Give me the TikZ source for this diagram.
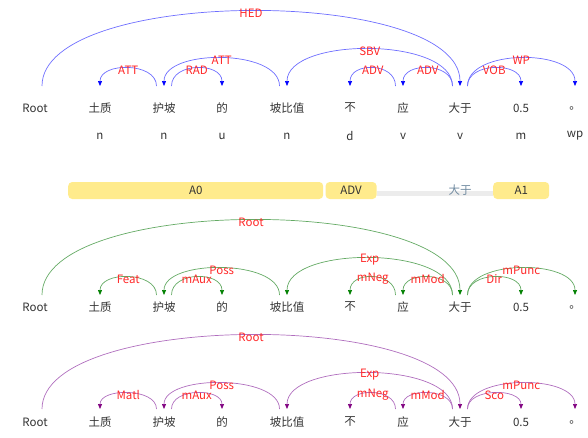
\documentclass[tikz,border=0pt]{standalone}
\usepackage{fontspec}
\setmainfont{Noto Sans CJK SC}
\usetikzlibrary{arrows.meta, positioning, calc}
\definecolor{barfill}{RGB}{255,235,140}
\definecolor{lblred}{RGB}{255,40,40}
\definecolor{wordgray}{RGB}{51,51,51}
\definecolor{predgray}{RGB}{112,138,160}
\definecolor{predline}{RGB}{236,236,236}
\definecolor{bluearc}{RGB}{110,110,255}
\definecolor{bluetip}{RGB}{0,0,255}
\definecolor{greenarc}{RGB}{100,170,100}
\definecolor{greentip}{RGB}{0,128,0}
\definecolor{purplearc}{RGB}{176,110,190}
\definecolor{purpletip}{RGB}{128,0,128}
\tikzset{
  word/.style={text=wordgray, font=\fontsize{11.5}{13}\selectfont, inner sep=0pt},
  lbl/.style={text=lblred, font=\fontsize{11.5}{13}\selectfont, inner sep=0pt, yshift=-2pt},
  argbox/.style={fill=barfill, rounded corners=4pt, minimum height=17pt, inner sep=0pt,
    text=wordgray, font=\fontsize{11.5}{13}\selectfont},
  deparcblue/.style={draw=bluearc, line width=0.7pt, -{Triangle[length=5pt,width=4pt,color=bluetip]}},
  deparcgreen/.style={draw=greenarc, line width=0.7pt, -{Triangle[length=5pt,width=4pt,color=greentip]}},
  deparcpurple/.style={draw=purplearc, line width=0.7pt, -{Triangle[length=5pt,width=4pt,color=purpletip]}}
}
% arc from word #1 (tail shifted by #2) to word #3, height #4, label #5
\newcommand{\deparc}[5]{%
  \draw[dep] ([xshift=#2pt]\sec b#1) .. controls +(0,-#4*1.333) and +(0,-#4*1.333) .. (\sec b#3)
    node[lbl, pos=0.5] {#5};}

\begin{document}
\begin{tikzpicture}[x=1pt, y=-1pt]
\useasboundingbox (0,0) rectangle (588,437);
% Analisis 1: dependencias
\begin{scope}[shift={(0,108)}, dep/.style=deparcblue]
\def\sec{a}
\foreach \x/\w [count=\i from 0] in {35/Root, 100/土质, 164/护坡, 222/的, 287/坡比值, 350/不, 403/应, 460/大于, 521/0.5, 575/。} {
    \node[word] (\sec w\i) at (\x,0) {\w};
    \coordinate (\sec b\i) at (\x,-22);
}
\foreach \x/\t [count=\i from 1] in {100/n, 164/n, 222/u, 287/n, 350/d, 403/v, 460/v, 521/m, 575/wp} {
    \node[word] (\sec t\i) at (\x,28) {\t};
}
\deparc{2}{-7.5}{1}{18}{ATT}
\deparc{2}{7.5}{3}{18}{RAD}
\deparc{4}{-7.5}{2}{28}{ATT}
\deparc{0}{7}{7}{75}{HED}
\deparc{7}{-7.5}{4}{37}{SBV}
\deparc{6}{-7.5}{5}{18}{ADV}
\deparc{7}{-7.5}{6}{18}{ADV}
\deparc{7}{7.5}{8}{18}{VOB}
\deparc{7}{7.5}{9}{28}{WP}
\end{scope}
% Analisis 2: roles semanticos
\node[argbox, minimum width=255pt, anchor=west] (arg0) at (68,190.5) {A0};
\node[argbox, minimum width=51pt, right=2pt of arg0] (argadv) {ADV};
\node[argbox, minimum width=56pt, anchor=west] (arg1) at (493,190.5) {A1};
\fill[predline] ([yshift=-0.5pt]argadv.east) rectangle ([yshift=-5.5pt]arg1.west);
\node[word, text=predgray] (pred) at (460,190) {大于};
% Analisis 3: semantica (verde)
\begin{scope}[shift={(0,307)}, dep/.style=deparcgreen]
\def\sec{b}
\foreach \x/\w [count=\i from 0] in {35/Root, 100/土质, 164/护坡, 222/的, 287/坡比值, 350/不, 403/应, 460/大于, 521/0.5, 575/。} {
    \node[word] (\sec w\i) at (\x,0) {\w};
    \coordinate (\sec b\i) at (\x,-12);
}
\deparc{2}{-7.5}{1}{18}{Feat}
\deparc{2}{7.5}{3}{18}{mAux}
\deparc{4}{-7.5}{2}{27}{Poss}
\deparc{0}{7}{7}{75}{Root}
\deparc{7}{-7.5}{4}{37}{Exp}
\deparc{6}{-7.5}{5}{18}{mNeg}
\deparc{7}{-7.5}{6}{18}{mMod}
\deparc{7}{7.5}{8}{18}{Dir}
\deparc{7}{7.5}{9}{27}{mPunc}
\end{scope}
% Analisis 4: semantica (morado)
\begin{scope}[shift={(0,422)}, dep/.style=deparcpurple]
\def\sec{c}
\foreach \x/\w [count=\i from 0] in {35/Root, 100/土质, 164/护坡, 222/的, 287/坡比值, 350/不, 403/应, 460/大于, 521/0.5, 575/。} {
    \node[word] (\sec w\i) at (\x,0) {\w};
    \coordinate (\sec b\i) at (\x,-13);
}
\deparc{2}{-7.5}{1}{16}{Matl}
\deparc{2}{7.5}{3}{16}{mAux}
\deparc{4}{-7.5}{2}{26}{Poss}
\deparc{0}{7}{7}{74}{Root}
\deparc{7}{-7.5}{4}{36}{Exp}
\deparc{6}{-7.5}{5}{16}{mNeg}
\deparc{7}{-7.5}{6}{16}{mMod}
\deparc{7}{7.5}{8}{16}{Sco}
\deparc{7}{7.5}{9}{26}{mPunc}
\end{scope}
\end{tikzpicture}
\end{document}
